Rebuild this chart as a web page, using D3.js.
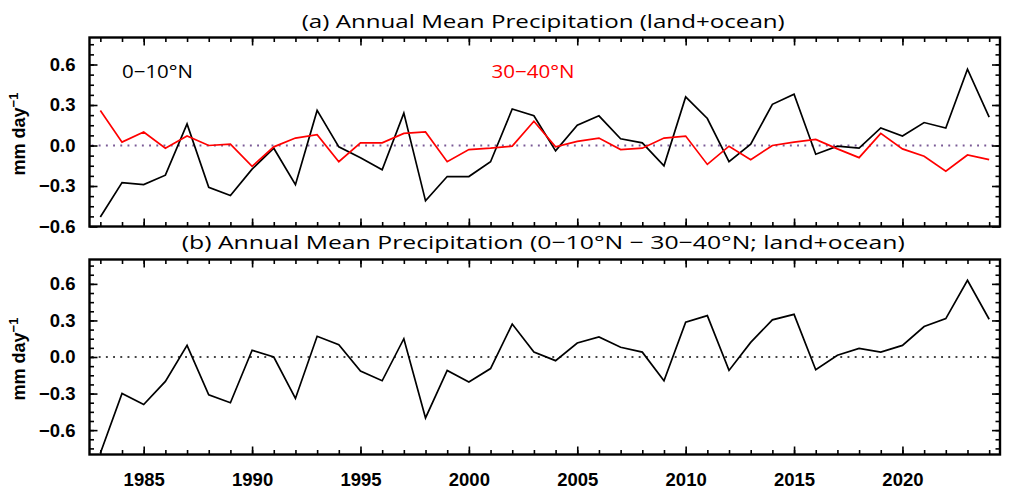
<!DOCTYPE html>
<html>
<head>
<meta charset="utf-8">
<script src="https://cdn.jsdelivr.net/npm/d3@7"></script>
<style>
  html, body { margin: 0; padding: 0; background: #fff; }
  svg { display: block; }
</style>
</head>
<body>
<svg id="chart" width="1024" height="496"></svg>
<script>
// ---------- data ----------
const years = d3.range(1983, 2025);
const eq0_10N = [
  -0.53, -0.275, -0.29, -0.22, 0.16, -0.31, -0.37, -0.175, -0.02, -0.29,
  0.26, -0.01, -0.09, -0.18, 0.24, -0.41, -0.23, -0.23, -0.12, 0.27,
  0.22, -0.04, 0.15, 0.22, 0.05, 0.02, -0.15, 0.36, 0.20, -0.12,
  0.01, 0.305, 0.38, -0.065, -0.005, -0.02, 0.13, 0.07, 0.17, 0.13,
  0.565, 0.21
];
const mid30_40N = [
  0.26, 0.025, 0.10, -0.02, 0.07, 0.00, 0.01, -0.155, -0.01, 0.055,
  0.08, -0.12, 0.02, 0.02, 0.09, 0.10, -0.12, -0.03, -0.02, -0.005,
  0.18, -0.01, 0.03, 0.055, -0.03, -0.02, 0.055, 0.07, -0.14, -0.005,
  -0.105, 0.00, 0.025, 0.045, -0.025, -0.09, 0.09, -0.025, -0.08, -0.19,
  -0.07, -0.105
];
const diffSeries = [
  -0.79, -0.30, -0.39, -0.20, 0.095, -0.31, -0.375, 0.055, 0.00, -0.34,
  0.17, 0.10, -0.115, -0.195, 0.15, -0.50, -0.11, -0.205, -0.095, 0.27,
  0.04, -0.03, 0.115, 0.165, 0.08, 0.04, -0.195, 0.285, 0.34, -0.11,
  0.12, 0.305, 0.35, -0.105, 0.015, 0.07, 0.04, 0.095, 0.25, 0.315,
  0.63, 0.31
];
const yTickValues = [-0.6, -0.3, 0.0, 0.3, 0.6];
const xTickValues = [1985, 1990, 1995, 2000, 2005, 2010, 2015, 2020];
const titleA = "(a) Annual Mean Precipitation (land+ocean)";
const titleB = "(b) Annual Mean Precipitation (0\u221210\u00B0N  \u2212  30\u221240\u00B0N; land+ocean)";
const legendA = "0\u221210\u00B0N";
const legendB = "30\u221240\u00B0N";

// ---------- layout ----------
const svg = d3.select("#chart");
const left = 89.5, right = 1000;
const x = d3.scaleLinear().domain([1982.5, 2024.5]).range([left, right]);

const panels = [
  { top: 37.5, bottom: 226.5, domain: [-0.6, 0.8], zeroColor: "#7a5a96",
    series: [{ v: eq0_10N, c: "#000" }, { v: mid30_40N, c: "#ff0000" }],
    title: titleA, titleY: 28, titleLen: 483, xLabels: false },
  { top: 259.5, bottom: 454.5, domain: [-0.8, 0.8], zeroColor: "#444",
    series: [{ v: diffSeries, c: "#000" }],
    title: titleB, titleY: 248.5, titleLen: 723, xLabels: true }
];

const fmt = v => (v < 0 ? "\u2212" : "") + Math.abs(v).toFixed(1);

panels.forEach((p, pi) => {
  const y = d3.scaleLinear().domain(p.domain).range([p.bottom, p.top]);
  const g = svg.append("g");
  const clipId = "clip" + pi;
  svg.append("clipPath").attr("id", clipId).append("rect")
    .attr("x", left).attr("y", p.top).attr("width", right - left).attr("height", p.bottom - p.top);

  // zero dotted line
  g.append("line")
    .attr("x1", left + 2).attr("x2", right - 2)
    .attr("y1", y(0)).attr("y2", y(0))
    .attr("stroke", p.zeroColor).attr("stroke-width", 1.9)
    .attr("stroke-dasharray", "1.9,5.3");

  // minor ticks
  const minorY = d3.range(Math.round(p.domain[0] / 0.075), Math.round(p.domain[1] / 0.075) + 1)
    .map(k => +(k * 0.075).toFixed(4))
    .filter(v => v > p.domain[0] + 1e-6 && v < p.domain[1] - 1e-6);
  const minorX = years;

  // x axes (bottom and top, ticks inward)
  const xAxisB = d3.axisBottom(x).tickValues(xTickValues).tickSize(-8)
    .tickFormat(p.xLabels ? d3.format("d") : "").tickPadding(18);
  const xAxisT = d3.axisTop(x).tickValues(xTickValues).tickSize(-8).tickFormat("");
  const xMinB = d3.axisBottom(x).tickValues(minorX).tickSize(-4.5).tickFormat("");
  const xMinT = d3.axisTop(x).tickValues(minorX).tickSize(-4.5).tickFormat("");
  const yAxisL = d3.axisLeft(y).tickValues(yTickValues).tickSize(-8).tickFormat(fmt).tickPadding(14);
  const yAxisR = d3.axisRight(y).tickValues(yTickValues).tickSize(-8).tickFormat("");
  const yMinL = d3.axisLeft(y).tickValues(minorY).tickSize(-4.5).tickFormat("");
  const yMinR = d3.axisRight(y).tickValues(minorY).tickSize(-4.5).tickFormat("");

  const axes = [
    [xMinB, `translate(0,${p.bottom})`], [xMinT, `translate(0,${p.top})`],
    [yMinL, `translate(${left},0)`], [yMinR, `translate(${right},0)`],
    [xAxisB, `translate(0,${p.bottom})`], [xAxisT, `translate(0,${p.top})`],
    [yAxisL, `translate(${left},0)`], [yAxisR, `translate(${right},0)`]
  ];
  axes.forEach(([ax, tr]) => {
    const a = g.append("g").attr("transform", tr).call(ax);
    a.select(".domain").remove();
    a.selectAll(".tick line").attr("stroke", "#000").attr("stroke-width", 1.6);
    a.selectAll(".tick text")
      .attr("fill", "#000")
      .style("font-family", "'Liberation Sans', Arial, sans-serif")
      .style("font-weight", "bold")
      .style("font-size", "18.5px");
  });

  // series lines
  const line = d3.line().x((d, i) => x(years[i])).y(d => y(d));
  p.series.forEach(s => {
    g.append("path").datum(s.v)
      .attr("clip-path", `url(#${clipId})`)
      .attr("fill", "none").attr("stroke", s.c)
      .attr("stroke-width", 1.7).attr("stroke-linejoin", "miter")
      .attr("d", line);
  });

  // frame
  g.append("rect")
    .attr("x", left).attr("y", p.top)
    .attr("width", right - left).attr("height", p.bottom - p.top)
    .attr("fill", "none").attr("stroke", "#000").attr("stroke-width", 2.4);

  // title
  g.append("text")
    .attr("x", (left + right) / 2 - 1.5).attr("y", p.titleY)
    .attr("text-anchor", "middle")
    .attr("textLength", p.titleLen).attr("lengthAdjust", "spacingAndGlyphs")
    .style("font-family", "'Open Sans', 'DejaVu Sans', sans-serif")
    .style("font-size", "19px")
    .attr("fill", "#000")
    .text(p.title);

  // y label
  const cy = (p.top + p.bottom) / 2 + 2;
  const yl = g.append("text")
    .attr("transform", `translate(24.5,${cy}) rotate(-90)`)
    .attr("text-anchor", "middle")
    .style("font-family", "'Liberation Sans', Arial, sans-serif")
    .style("font-weight", "bold")
    .style("font-size", "18px")
    .attr("fill", "#000");
  yl.append("tspan").text("mm day");
  yl.append("tspan").attr("dy", -7).style("font-size", "13px").text("\u22121");
});

// legend labels in panel (a)
svg.append("text").attr("x", 122).attr("y", 78)
  .attr("textLength", 71).attr("lengthAdjust", "spacingAndGlyphs")
  .style("font-family", "'Open Sans', 'DejaVu Sans', sans-serif")
  .style("font-size", "18px").attr("fill", "#000").text(legendA);
svg.append("text").attr("x", 491.5).attr("y", 78)
  .attr("textLength", 83).attr("lengthAdjust", "spacingAndGlyphs")
  .style("font-family", "'Open Sans', 'DejaVu Sans', sans-serif")
  .style("font-size", "18px").attr("fill", "#ff0000").text(legendB);
</script>
</body>
</html>
